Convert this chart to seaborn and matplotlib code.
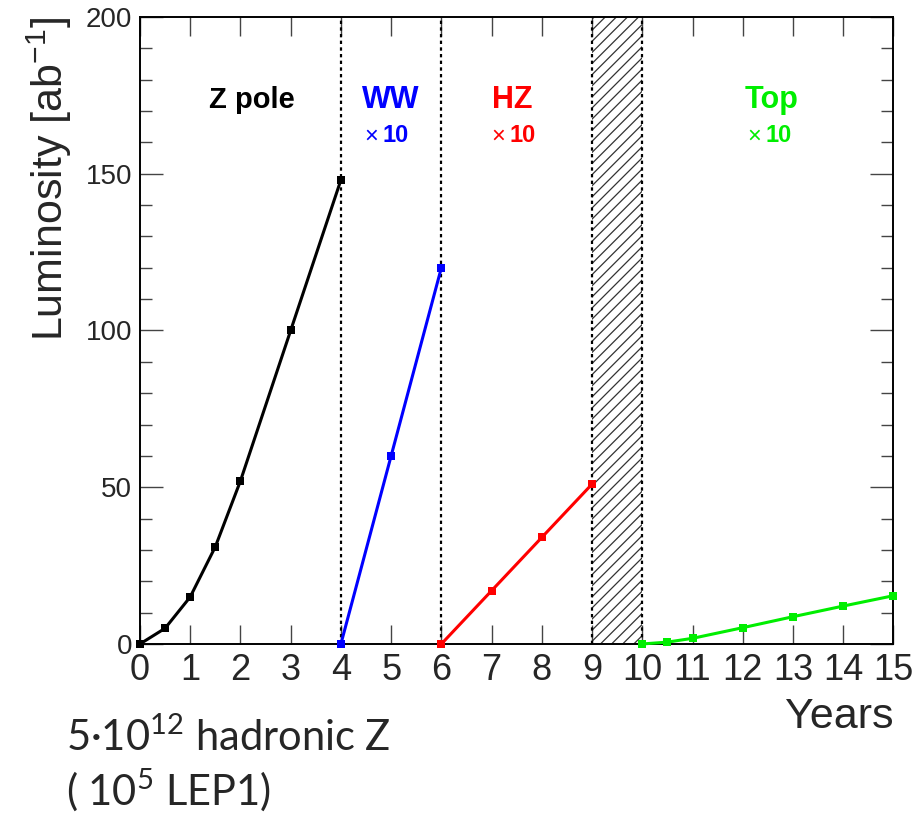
import numpy as np
import pandas as pd
import seaborn as sns
import matplotlib
matplotlib.use("Agg")
import matplotlib.pyplot as plt
from matplotlib.ticker import MultipleLocator

# Integrated luminosity per run phase [ab^-1] vs. calendar year
z_years = [0, 0.5, 1, 1.5, 2, 3, 4]
z_lumi = [0, 5, 15, 31, 52, 100, 148]

ww_years = [4, 5, 6]
ww_lumi = [0, 60, 120]

hz_years = [6, 7, 8, 9]
hz_lumi = [0, 17, 34, 51]

top_years = [10, 10.5, 11, 12, 13, 14, 15]
top_lumi = [0, 0.6, 1.8, 5.2, 8.7, 12.1, 15.4]

phase_names = ["Z pole", "WW", "HZ", "Top"]
phase_colors = ["#000000", "#0000ff", "#ff0000", "#00ee00"]
phase_scale = ["", "10", "10", "10"]

boundaries = [4, 6, 9, 10]
shutdown = (9, 10)

year_ticks = list(range(0, 16))
lumi_ticks = [0, 50, 100, 150, 200]

frames = []
for name, yrs, lum in zip(phase_names,
                          [z_years, ww_years, hz_years, top_years],
                          [z_lumi, ww_lumi, hz_lumi, top_lumi]):
    frames.append(pd.DataFrame({"year": yrs, "lumi": lum, "phase": name}))
data = pd.concat(frames, ignore_index=True)

sns.set_style("white")
plt.rcParams["font.family"] = ["Liberation Sans", "DejaVu Sans"]
plt.rcParams["hatch.linewidth"] = 0.9

fig = plt.figure(figsize=(9.16, 8.19), dpi=100)
ax = fig.add_axes([0.1528, 0.2137, 0.8226, 0.7656])

# shutdown year, hatched
ax.axvspan(shutdown[0], shutdown[1], facecolor="none", edgecolor="#333333",
           hatch="///", linewidth=0, zorder=1)

# phase boundaries
for b in boundaries:
    ax.axvline(b, color="black", linestyle=(0, (1.5, 1.5)), linewidth=1.6, zorder=2)

for name, color in zip(phase_names, phase_colors):
    sub = data[data["phase"] == name]
    sns.lineplot(data=sub, x="year", y="lumi", ax=ax, color=color,
                 linewidth=2.2, marker="s", markersize=6.3, markeredgewidth=0,
                 estimator=None, sort=False, clip_on=False, zorder=5)

ax.set_xlim(0, 15)
ax.set_ylim(0, 200)
ax.set_xticks(year_ticks)
ax.set_xticklabels([str(t) for t in year_ticks])
ax.set_yticks(lumi_ticks)
ax.yaxis.set_minor_locator(MultipleLocator(10))

ax.tick_params(axis="x", which="major", direction="in", length=13.7, width=1.0,
               color="#444444", bottom=True, top=True, labelsize=26, pad=6.5)
ax.tick_params(axis="y", which="major", direction="in", length=16.6, width=1.0,
               color="#444444", left=True, right=True, labelsize=20, pad=5.8)
ax.tick_params(axis="y", which="minor", direction="in", length=8.3, width=1.0,
               color="#444444", left=True, right=True)

for s in ax.spines.values():
    s.set_linewidth(1.4)
    s.set_color("black")

ax.set_xlabel("Years", fontsize=31, loc="right")
ax.xaxis.set_label_coords(1.0, -0.0845)
ax.set_ylabel(r"Luminosity [ab$^{\mathregular{-1}}$]", fontsize=31, loc="top")
ax.yaxis.set_label_coords(-0.087, 1.0)

# phase titles
title_x = [2.22, 5.0, 7.42, 12.58]
title_size = [21, 22, 22, 22]
for name, color, tx, fs in zip(phase_names, phase_colors, title_x, title_size):
    ax.text(tx, 171, name, ha="center", va="baseline", fontsize=fs,
            fontweight="bold", color=color)

# "x 10" scale factors under the titles
scale_x = [None, 4.79, 7.32, 12.41]
for sc, color, sx in zip(phase_scale, phase_colors, scale_x):
    if not sc:
        continue
    ax.annotate("\u00d7", xy=(sx, 160), xytext=(-1.5, 0), textcoords="offset points",
                ha="right", va="baseline", fontsize=17, color=color)
    ax.annotate(sc, xy=(sx, 160), xytext=(1.5, 0), textcoords="offset points",
                ha="left", va="baseline", fontsize=17, fontweight="bold", color=color)

note_font = ["Lato", "DejaVu Sans"]
fig.text(66 / 916, 1 - 751 / 819, "5\u00b710$^{\\mathregular{12}}$ hadronic Z",
         fontsize=30, family=note_font, ha="left", va="baseline")
fig.text(66 / 916, 1 - 806 / 819, "( 10$^{\\mathregular{5}}$ LEP1)",
         fontsize=30, family=note_font, ha="left", va="baseline")

fig.savefig("out.png", dpi=100, facecolor="white")
